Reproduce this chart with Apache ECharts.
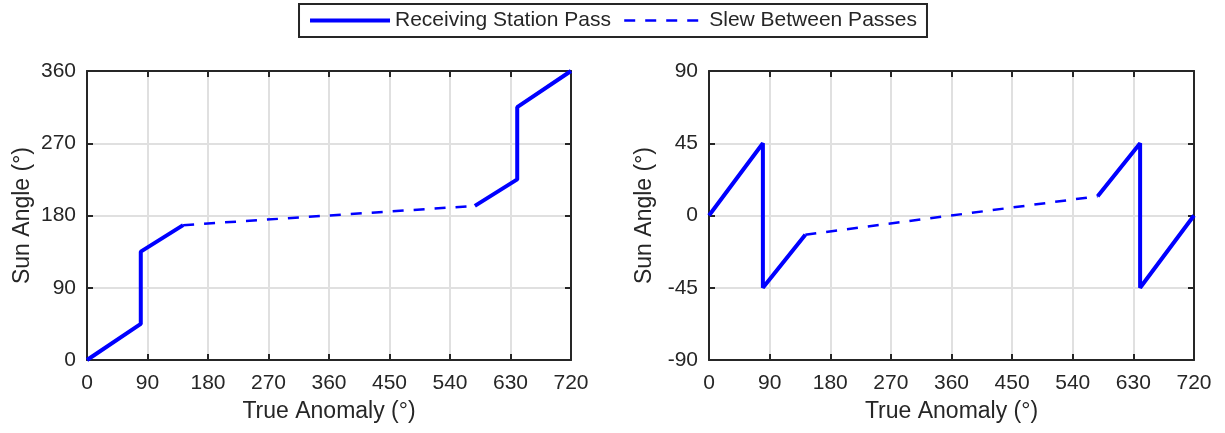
<!DOCTYPE html>
<html><head><meta charset="utf-8">
<script src="https://cdn.jsdelivr.net/npm/echarts@6/dist/echarts.min.js"></script>
<style>html,body{margin:0;padding:0;background:#fff}#c{width:1225px;height:433px}</style>
</head><body><div id="c"></div>
<script>
const passName = 'Receiving Station Pass';
const slewName = 'Slew Between Passes';
const xTicks = [0, 90, 180, 270, 360, 450, 540, 630, 720];
// Left: sun angle 0..360
const leftPass1 = [[0, 0], [80, 45], [80, 135], [143, 168]];
const leftSlew = [[143, 168], [577, 192]];
const leftPass2 = [[577, 192], [640, 225], [640, 315], [720, 360]];
// Right: sun angle -90..90
const rightPass1 = [[0, 0], [80, 45], [80, -45], [143, -12]];
const rightSlew = [[143, -12], [577, 12]];
const rightPass2 = [[577, 12], [640, 45], [640, -45], [720, 0]];

const txt = '#262626';
const font = 'Liberation Sans, Arial, Helvetica, sans-serif';
const blue = '#0000ff';
const gridCol = '#e0e0e0';
const solidW = 4, dashW = 2.5, dashPat = [11, 10];

function xAxes(gi) {
  return [
    {gridIndex: gi, type: 'value', min: 0, max: 720, interval: 90, position: 'bottom',
     name: 'True Anomaly (°)', nameLocation: 'middle', nameGap: 40,
     nameTextStyle: {color: txt, fontSize: 23, fontFamily: font},
     axisLine: {show: true, onZero: false, lineStyle: {color: txt, width: 2}},
     axisTick: {show: true, inside: true, length: 6, lineStyle: {color: txt, width: 2}},
     axisLabel: {color: txt, fontSize: 21, fontFamily: font, margin: 13},
     splitLine: {show: true, lineStyle: {color: gridCol, width: 2}}},
    {gridIndex: gi, type: 'value', min: 0, max: 720, interval: 90, position: 'top',
     axisLine: {show: true, onZero: false, lineStyle: {color: txt, width: 2}},
     axisTick: {show: true, inside: true, length: 6, lineStyle: {color: txt, width: 2}},
     axisLabel: {show: false}, splitLine: {show: false}}
  ];
}
function yAxes(gi, mn, mx) {
  return [
    {gridIndex: gi, type: 'value', min: mn, max: mx, interval: 45 * (mx - mn) / 180, position: 'left',
     name: 'Sun Angle (°)', nameLocation: 'middle', nameGap: 53,
     nameTextStyle: {color: txt, fontSize: 23, fontFamily: font},
     axisLine: {show: true, onZero: false, lineStyle: {color: txt, width: 2}},
     axisTick: {show: true, inside: true, length: 6, lineStyle: {color: txt, width: 2}},
     axisLabel: {color: txt, fontSize: 21, fontFamily: font, margin: 11},
     splitLine: {show: true, lineStyle: {color: gridCol, width: 2}}},
    {gridIndex: gi, type: 'value', min: mn, max: mx, interval: 45 * (mx - mn) / 180, position: 'right',
     axisLine: {show: true, onZero: false, lineStyle: {color: txt, width: 2}},
     axisTick: {show: true, inside: true, length: 6, lineStyle: {color: txt, width: 2}},
     axisLabel: {show: false}, splitLine: {show: false}}
  ];
}
function ser(name, data, xi, yi, dashed) {
  return {name: name, type: 'line', xAxisIndex: xi, yAxisIndex: yi, data: data,
    symbol: 'none', animation: false, z: 5,
    lineStyle: {color: blue, width: dashed ? dashW : solidW, type: dashed ? dashPat : 'solid'},
    itemStyle: {color: blue}};
}

const chart = echarts.init(document.getElementById('c'), null, {renderer: 'canvas'});
chart.setOption({
  animation: false,
  backgroundColor: '#fff',
  legend: {
    data: [
      {name: passName, lineStyle: {width: solidW, color: blue, type: 'solid'}},
      {name: slewName, lineStyle: {width: dashW, color: blue, type: dashPat}}
    ],
    top: 4, left: 'center',
    itemWidth: 80, itemHeight: 14, itemGap: 12,
    padding: [6, 10, 6, 9],
    borderColor: txt, borderWidth: 2,
    itemStyle: {opacity: 0},
    textStyle: {color: txt, fontSize: 21, fontFamily: font}
  },
  grid: [
    {left: 87, right: 654, top: 71, bottom: 73},
    {left: 709, right: 31, top: 71, bottom: 73}
  ],
  xAxis: [...xAxes(0), ...xAxes(1)],
  yAxis: [...yAxes(0, 0, 360), ...yAxes(1, -90, 90)],
  series: [
    ser(passName, leftPass1, 0, 0, false),
    ser(slewName, leftSlew, 0, 0, true),
    ser(passName, leftPass2, 0, 0, false),
    ser(passName, rightPass1, 2, 2, false),
    ser(slewName, rightSlew, 2, 2, true),
    ser(passName, rightPass2, 2, 2, false)
  ]
});
</script></body></html>
